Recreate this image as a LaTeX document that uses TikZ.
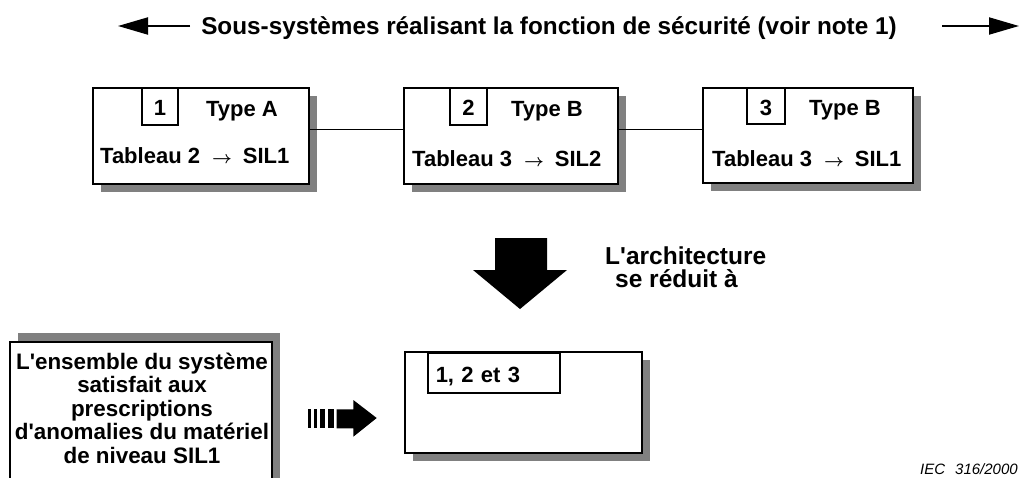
\documentclass[tikz,border=0pt]{standalone}
\usepackage{fontspec}
\setmainfont{Liberation Sans}
\usetikzlibrary{arrows.meta,shadows}
\newcommand{\tabarrow}{\hspace{12pt}{\fontsize{17}{20}\selectfont\boldmath$\rightarrow$}\hspace{11pt}}

\begin{document}
\begin{tikzpicture}[x=1pt,y=-1pt,
  bigbox/.style={draw, line width=1.5pt, fill=white, inner sep=0pt,
    drop shadow={shadow xshift=8pt, shadow yshift=-8pt, fill=black!50, opacity=1}},
  upbox/.style={draw, line width=1.5pt, fill=white, inner sep=0pt,
    drop shadow={shadow xshift=8pt, shadow yshift=9pt, fill=black!50, opacity=1}},
  numbox/.style={draw, line width=1.2pt, fill=white, inner sep=0pt,
    font=\fontsize{22}{24}\selectfont\bfseries, text height=15.8pt, text depth=0pt},
  lbl/.style={inner sep=0pt, font=\fontsize{22}{24}\selectfont\bfseries, anchor=base},
  link/.style={line width=1pt},
  toparrow/.style={line width=2pt, -{Triangle[length=30pt,width=17pt]}},
  blackfill/.style={fill=black, draw=none}
]
\fill[white] (0,0) rectangle (1024,477);
\useasboundingbox (0,0) rectangle (1024,477);

% title and arrows
\node[lbl, font=\fontsize{24.3}{26}\selectfont\bfseries] (title) at (549,34)
  {Sous-systèmes réalisant la fonction de sécurité (voir note 1)};
\coordinate (ltail) at (190,26);
\coordinate (lhead) at (118,26);
\coordinate (rtail) at (942,26);
\coordinate (rhead) at (1019,26);
\draw[toparrow] (ltail) -- (lhead);
\draw[toparrow] (rtail) -- (rhead);

% subsystem boxes
\node[bigbox, minimum width=216pt, minimum height=96pt] (b1) at (201,136) {};
\node[bigbox, minimum width=214pt, minimum height=96pt] (b2) at (511,136) {};
\node[bigbox, minimum width=210pt, minimum height=95pt] (b3) at (808,135.5) {};

\draw[link] ([yshift=7pt]b1.east) -- ([yshift=7pt]b2.west);
\draw[link] ([yshift=7pt]b2.east) -- ([yshift=6.5pt]b3.west);

\node[numbox, minimum width=36pt, minimum height=37pt] (n1) at (160,106.5) {\raisebox{-1.5pt}{1}};
\node[numbox, minimum width=37pt, minimum height=37pt] (n2) at (468.5,106.5) {\raisebox{-1.5pt}{2}};
\node[numbox, minimum width=38pt, minimum height=36pt] (n3) at (766,106) {\raisebox{-1.5pt}{3}};

\node[lbl] (t1) at (242,116) {Type A};
\node[lbl] (t2) at (547,116) {Type B};
\node[lbl] (t3) at (845,115) {Type B};

\node[lbl, anchor=base west] (s1) at (100,163) {Tableau 2\tabarrow SIL1};
\node[lbl, anchor=base west] (s2) at (412,166) {Tableau 3\tabarrow SIL2};
\node[lbl, anchor=base west] (s3) at (712,166) {Tableau 3\tabarrow SIL1};

% big down arrow
\fill[blackfill] (495,238) -- (547,238) -- (547,270) -- (567,270) -- (520,309)
  -- (473,270) -- (495,270) -- cycle;
\node[inner sep=0pt, font=\fontsize{24.5}{23}\selectfont\bfseries, align=left, anchor=west]
  (arch) at (605,267.5) {L\textquotesingle architecture\\\hspace*{10pt}se réduit à};

% bottom left box
\node[upbox, minimum width=262pt, minimum height=148pt] (bl) at (141,416) {};
\node[inner sep=0pt, font=\fontsize{22.4}{23.5}\selectfont\bfseries, align=center]
  (bltext) at (142,408) {L\textquotesingle ensemble du système\\satisfait aux\\prescriptions\\d\textquotesingle anomalies du matériel\\de niveau SIL1};

% striped arrow
\fill[blackfill] (308,409.3) rectangle (311,428.3);
\fill[blackfill] (314,409.3) rectangle (317.3,428.3);
\fill[blackfill] (320,409.3) rectangle (325,428.3);
\fill[blackfill] (327.7,409.3) rectangle (334,428.3);
\fill[blackfill] (336.7,409.3) -- (353.3,409.3) -- (353.3,400) -- (376.7,418)
  -- (353.3,436.7) -- (353.3,428.3) -- (336.7,428.3) -- cycle;

% result box
\node[bigbox, line width=2pt, minimum width=237pt, minimum height=101pt] (res) at (523.5,402.5) {};
\node[numbox, line width=1.5pt, minimum width=132pt, minimum height=40pt, anchor=north west,
  text width=116pt, inner xsep=8pt, align=left] (resl) at (427,352) {\raisebox{-1.5pt}{1, 2 et 3}};

% reference
\node[inner sep=0pt, anchor=base west, font=\fontsize{15}{18}\selectfont\itshape]
  (iec) at (920,474) {IEC\hspace{10pt}316/2000};
\end{tikzpicture}
\end{document}
